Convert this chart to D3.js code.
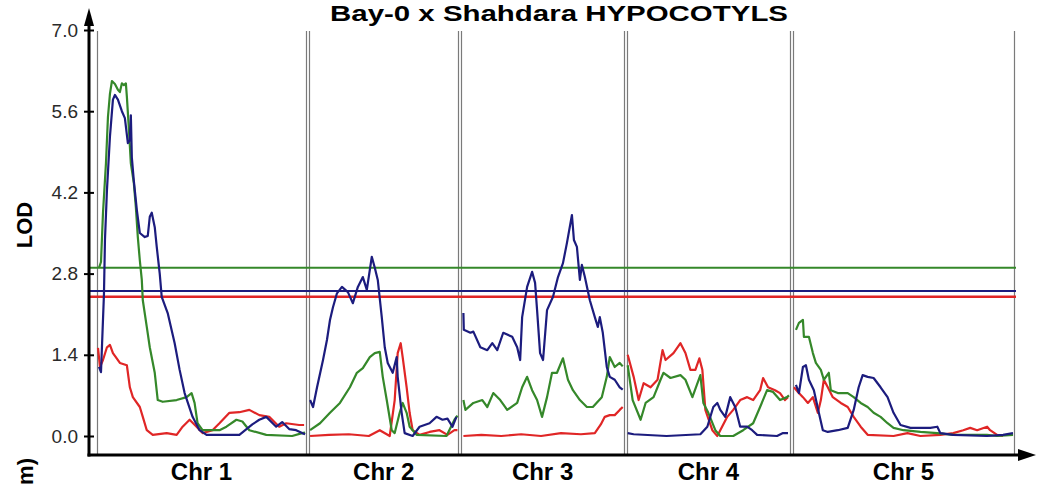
<!DOCTYPE html>
<html>
<head>
<meta charset="utf-8">
<script src="https://cdn.jsdelivr.net/npm/d3@7"></script>
<style>
  html, body { margin: 0; padding: 0; background: #ffffff; }
  svg { display: block; }
  text { font-family: "Liberation Sans", Arial, sans-serif; }
</style>
</head>
<body>
<svg id="chart" width="1038" height="484"></svg>
<script>
// ---------------- DATA ----------------
const chromosomes = ["Chr 1", "Chr 2", "Chr 3", "Chr 4", "Chr 5"];
const chrLengths = [105, 75, 81.5, 82, 111];   // cM
const chrGap = 1.5;                             // cM between chromosomes
const yTicks = [0.0, 1.4, 2.8, 4.2, 5.6, 7.0];
const thresholdSeries = ["green", "blue", "red"];
const thresholdValues = [2.9, 2.5, 2.4];

// [position cM within chromosome, LOD]
const lodBlue = [
  [[1,1.19],[2,1.1],[3.5,2.45],[4,3.38],[5,4.24],[6.5,5.16],[8,5.8],[9,5.88],[10.5,5.8],[12.5,5.6],[14,5.48],[15.5,5.05],[16.5,5.1],[17,5.53],[17.5,4.8],[18.5,4.4],[20,3.9],[21.5,3.5],[24,3.43],[25.5,3.45],[26.5,3.78],[27.5,3.85],[29,3.6],[30,3.26],[31.5,2.8],[32.5,2.4],[35.5,2.12],[39,1.6],[41.5,1.14],[44,0.74],[48,0.33],[51.5,0.1],[55,0.02],[71.5,0.02],[78,0.2],[81.5,0.28],[85,0.33],[90,0.16],[93,0.24],[96.5,0.12],[100,0.1],[103,0.05],[104.5,0.03]],
  [[0.5,0.62],[2,0.5],[4,0.84],[7,1.31],[9,1.66],[10.5,2.0],[12,2.22],[14,2.46],[16.5,2.57],[19.5,2.48],[22,2.29],[24.5,2.57],[27,2.74],[29,2.52],[31.5,3.09],[33,2.9],[34.5,2.69],[36.5,2.05],[38,1.53],[39.5,1.26],[42,1.09],[44,1.36],[44.5,1.02],[46.5,0.4],[48,0.05],[52,0.0],[55.5,0.16],[60.5,0.22],[64,0.33],[67,0.28],[69.5,0.3],[72,0.16],[74,0.33]],
  [[1,2.12],[1.2,1.83],[4.5,1.78],[6,1.8],[9.5,1.53],[13,1.48],[15.5,1.6],[18,1.48],[21,1.78],[25.5,1.71],[28,1.53],[29.5,1.31],[30.5,2.05],[33,2.57],[35.5,2.83],[37,2.64],[38,2.17],[39.5,1.43],[41,1.31],[43,2.17],[46,2.4],[48.5,2.74],[51,2.98],[53,3.33],[55.5,3.81],[56.5,3.38],[58,3.26],[59.5,2.69],[60.5,2.95],[62,2.74],[64.5,2.34],[67,2.05],[68.5,1.88],[69.5,2.05],[71,1.78],[73,1.19],[74.5,1.02],[77,0.97],[79.5,0.84],[81,0.8]],
  [[0.5,0.05],[3.5,0.03],[20,0.0],[37,0.03],[40.5,0.16],[43.5,0.5],[45.5,0.57],[47,0.45],[49.5,0.33],[52,0.67],[54.5,0.5],[57,0.16],[60.5,0.16],[63,0.1],[65.5,0.02],[75.5,0.0],[78.5,0.05],[81,0.05]],
  [[1.5,0.88],[3,0.74],[5,1.19],[6.5,1.22],[8,0.97],[10.5,0.79],[13,0.4],[15,0.1],[17.5,0.07],[22.5,0.1],[27.5,0.14],[30.5,0.45],[33,0.84],[35,1.05],[37.5,1.02],[40.5,1.0],[44,0.84],[47.5,0.67],[50.5,0.4],[54,0.19],[59,0.14],[64,0.14],[69,0.14],[72.5,0.16],[74,0.05],[80.5,0.02],[97.5,0.0],[105.5,0.02],[110.5,0.05]]
];
const lodGreen = [
  [[1,2.9],[2,3.0],[3,3.84],[4.5,4.7],[5.5,5.5],[6.5,5.9],[7.5,6.12],[9,6.07],[10.5,5.97],[11.5,5.93],[12.5,6.08],[13.5,6.05],[14.5,6.08],[15,5.85],[16,5.3],[17,4.7],[18.5,4.36],[19.5,3.95],[20.5,3.43],[21.5,3.03],[22.5,2.69],[23,2.34],[25,1.88],[26.5,1.53],[29,1.09],[30.5,0.62],[33,0.59],[40,0.62],[45,0.67],[47.5,0.74],[49,0.57],[50.5,0.22],[53,0.1],[61.5,0.1],[65,0.16],[70,0.28],[73,0.25],[76.5,0.1],[85,0.02],[98,0.0],[103,0.05],[104.5,0.06]],
  [[0.5,0.1],[5.5,0.22],[10.5,0.4],[15.5,0.57],[20.5,0.84],[24,1.09],[27,1.17],[30.5,1.36],[33,1.43],[35.5,1.45],[37,1.02],[39,0.62],[41.5,0.1],[43,0.05],[45.5,0.4],[47,0.57],[49,0.4],[50.5,0.16],[54,0.02],[69,0.0],[73,0.28],[74.5,0.35]],
  [[1,0.62],[2,0.45],[6,0.57],[10.5,0.62],[13,0.5],[16,0.74],[19.5,0.62],[23,0.45],[28,0.57],[30.5,0.84],[33,1.02],[35.5,0.79],[38,0.62],[40.5,0.33],[43,0.67],[45.5,1.09],[48,1.09],[51,1.34],[53.5,0.97],[56,0.79],[59.5,0.62],[63,0.5],[66,0.5],[70.5,0.67],[73,1.02],[74.5,1.36],[77,1.19],[79.5,1.26],[81,1.2]],
  [[0.5,1.22],[3,0.62],[7,0.28],[9.5,0.57],[13.5,0.67],[17,0.97],[18.5,1.09],[22,1.0],[27,1.05],[29.5,0.97],[33,0.67],[37,1.05],[38.5,0.57],[41,0.4],[44.5,0.1],[47,0.0],[53.5,0.0],[58.5,0.1],[63.5,0.22],[67,0.5],[70.5,0.79],[73.5,0.76],[77,0.62],[80.5,0.67],[81.5,0.7]],
  [[1.5,1.83],[3,1.95],[5,2.0],[5.5,1.71],[8,1.71],[10,1.43],[11.5,1.26],[14,1.14],[15.5,0.97],[18,1.09],[19,0.79],[22.5,0.74],[27.5,0.74],[30.5,0.67],[34,0.57],[37.5,0.5],[40.5,0.4],[44,0.33],[47.5,0.22],[50.5,0.14],[55.5,0.1],[64,0.07],[72.5,0.05],[80.5,0.02],[97.5,0.02],[102.5,0.0],[110.5,0.02]]
];
const lodRed = [
  [[0.5,1.52],[1.5,1.19],[3,1.31],[5,1.53],[6.5,1.57],[8,1.43],[11.5,1.26],[15,1.22],[16.5,0.84],[18,0.67],[21.5,0.5],[23,0.33],[25,0.1],[28,0.02],[35,0.05],[40,0.02],[43,0.16],[46.5,0.28],[50,0.16],[53,0.05],[58,0.1],[61.5,0.22],[66.5,0.4],[71.5,0.41],[76.5,0.45],[81.5,0.36],[86.5,0.33],[91.5,0.16],[95,0.22],[101.5,0.19],[104,0.19]],
  [[0.5,0.0],[10,0.02],[20,0.03],[30,0.0],[35.5,0.1],[40.5,0.0],[43,0.62],[44.5,1.43],[46,1.6],[47,1.36],[49,0.84],[50.5,0.4],[52,0.1],[55.5,0.02],[60.5,0.07],[65.5,0.1],[69.5,0.02],[73,0.1],[74.5,0.1]],
  [[1,0.0],[10,0.02],[20,0.0],[30,0.03],[40,0.0],[50,0.05],[60,0.03],[67,0.05],[70,0.2],[72,0.33],[74.5,0.36],[77,0.36],[79.5,0.45],[81,0.5]],
  [[0.5,1.4],[3.5,1.02],[6,0.62],[8.5,0.91],[12,0.84],[15.5,0.97],[18,1.48],[19.5,1.31],[23.5,1.43],[27,1.6],[29.5,1.43],[32,1.14],[34.5,1.14],[36.5,1.34],[38,1.14],[39.5,0.45],[43,0.1],[45.5,0.0],[47,0.1],[50.5,0.33],[53.5,0.45],[57,0.62],[60.5,0.67],[63.5,0.62],[67,0.79],[68.5,1.0],[71,0.84],[74.5,0.79],[77,0.74],[79.5,0.62],[81,0.67]],
  [[0.5,0.84],[2.5,0.76],[5,0.67],[7.5,0.57],[10,0.67],[12.5,0.4],[14,0.62],[15.5,0.97],[17.5,0.84],[20,0.67],[24,0.57],[27.5,0.5],[30.5,0.33],[34,0.16],[37.5,0.02],[50.5,0.0],[57.5,0.05],[64,0.0],[74,0.02],[80.5,0.05],[85.5,0.1],[89,0.14],[92.5,0.1],[97.5,0.16],[99,0.1],[102.5,0.02],[105.5,0.0]]
];

// ---------------- LAYOUT ----------------
const colors = { blue: "#1c1c7e", green: "#35882a", red: "#e02626" };
const svg = d3.select("#chart");

const offsets = [];
let acc = 0;
chrLengths.forEach((L, i) => { offsets.push(acc); acc += L + chrGap; });
const total = acc - chrGap;

const x = d3.scaleLinear().domain([0, total]).range([97, 1014]);
const y = d3.scaleLinear().domain([0, 7]).range([436, 30]);

const axisX = 89, axisY = 455, plotTop = 31;

// background
svg.append("rect").attr("x", 0).attr("y", 0).attr("width", 1038).attr("height", 484).attr("fill", "#ffffff");

// title
svg.append("text")
  .attr("x", 559).attr("y", 21)
  .attr("text-anchor", "middle")
  .attr("font-size", 22).attr("font-weight", "bold")
  .attr("textLength", 458).attr("lengthAdjust", "spacingAndGlyphs")
  .attr("fill", "#000")
  .text("Bay-0 x Shahdara HYPOCOTYLS");

// chromosome border lines
chrLengths.forEach((L, i) => {
  [offsets[i], offsets[i] + L].forEach(p => {
    svg.append("line")
      .attr("x1", Math.round(x(p)) + 0.5).attr("x2", Math.round(x(p)) + 0.5)
      .attr("y1", plotTop).attr("y2", axisY)
      .attr("stroke", "#7a7a7a").attr("stroke-width", 1.2);
  });
});

// threshold lines
thresholdSeries.forEach((s, i) => {
  svg.append("line")
    .attr("x1", axisX).attr("x2", 1016)
    .attr("y1", y(thresholdValues[i])).attr("y2", y(thresholdValues[i]))
    .attr("stroke", colors[s]).attr("stroke-width", s === "red" ? 2.4 : 2);
});

// LOD curves
const line = d3.line().x(d => x(d[0])).y(d => y(d[1]));
[["red", lodRed], ["green", lodGreen], ["blue", lodBlue]].forEach(([name, series]) => {
  series.forEach((pts, i) => {
    const shifted = pts.map(p => [offsets[i] + p[0], p[1]]);
    svg.append("path")
      .attr("d", line(shifted))
      .attr("fill", "none")
      .attr("stroke", colors[name])
      .attr("stroke-width", 2.2)
      .attr("stroke-linejoin", "round");
  });
});

// y axis
const yAxis = d3.axisLeft(y).tickValues(yTicks).tickFormat(d3.format(".1f")).tickSize(5).tickPadding(6);
const gy = svg.append("g").attr("transform", `translate(${axisX},0)`).call(yAxis);
gy.select(".domain").remove();
gy.selectAll(".tick line").attr("x1", 5).attr("x2", -5).attr("stroke", "#000").attr("stroke-width", 2);
gy.selectAll(".tick text").attr("font-size", 19).attr("fill", "#2a2a2a")
  .attr("font-family", "Liberation Sans, Arial, sans-serif");

// axis lines with arrows
svg.append("line").attr("x1", axisX).attr("x2", axisX).attr("y1", 20).attr("y2", axisY + 1.5)
  .attr("stroke", "#000").attr("stroke-width", 3);
svg.append("path").attr("d", `M${axisX},8 L${axisX - 5},26 L${axisX + 5},26 Z`).attr("fill", "#000");
svg.append("line").attr("x1", axisX - 1.5).attr("x2", 1022).attr("y1", axisY).attr("y2", axisY)
  .attr("stroke", "#000").attr("stroke-width", 3);
svg.append("path").attr("d", `M1036,${axisY} L1018,${axisY - 6} L1018,${axisY + 6} Z`).attr("fill", "#000");

// chromosome labels
chromosomes.forEach((c, i) => {
  svg.append("text")
    .attr("x", x(offsets[i] + chrLengths[i] / 2)).attr("y", 480)
    .attr("text-anchor", "middle")
    .attr("font-size", 24).attr("font-weight", "bold").attr("fill", "#000")
    .text(c);
});

// y-axis title
svg.append("text")
  .attr("transform", "translate(32,225) rotate(-90)")
  .attr("text-anchor", "middle")
  .attr("font-size", 22).attr("font-weight", "bold").attr("fill", "#000")
  .text("LOD");

// cut-off label at bottom-left (cut off in the reference as well)
svg.append("text")
  .attr("transform", "translate(33,458) rotate(-90)")
  .attr("text-anchor", "end")
  .attr("font-size", 22).attr("font-weight", "bold").attr("fill", "#000")
  .text("(cm)");
</script>
</body>
</html>
